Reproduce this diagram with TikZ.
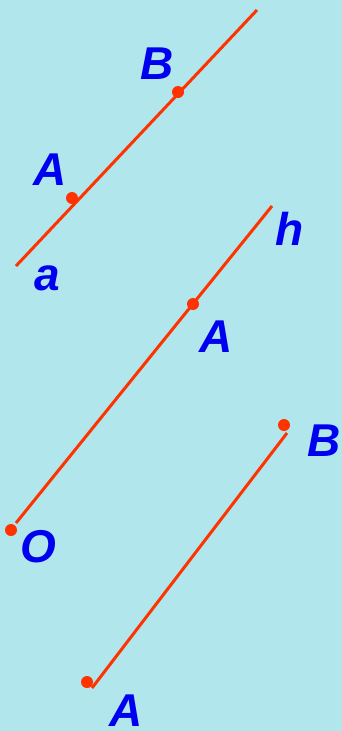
\documentclass[tikz,border=0pt]{standalone}
\usepackage{fontspec}
\setmainfont{Liberation Sans}
\definecolor{bgc}{RGB}{176,230,236}
\definecolor{redl}{RGB}{255,51,0}
\definecolor{bluel}{RGB}{0,0,240}
\begin{document}
\begin{tikzpicture}[x=1pt,y=-1pt,
  seg/.style={draw=redl,line width=3pt},
  dot/.style={circle,fill=redl,inner sep=0pt,minimum size=12pt},
  lab/.style={text=bluel,font=\fontsize{46}{46}\selectfont\bfseries\itshape,anchor=base,inner sep=0pt}]
\fill[bgc] (0,0) rectangle (342,731);
\useasboundingbox (0,0) rectangle (342,731);
% line a
\coordinate (a1) at (16,266);
\coordinate (a2) at (257,10);
\draw[seg] (a1) -- (a2);
\node[dot] (aA) at (72,198) {};
\node[dot] (aB) at (178,92) {};
\node[lab] (laB) at (157,79) {B};
\node[lab] (laA) at (50,185) {A};
\node[lab] (la) at (47,290) {a};
% ray h
\node[dot] (hO) at (11,530) {};
\coordinate (h0) at (16,523);
\coordinate (h2) at (272,206);
\draw[seg] (h0) -- (h2);
\node[dot] (hA) at (193,304) {};
\node[lab] (lh) at (290,245) {h};
\node[lab] (lhA) at (216,352) {A};
\node[lab] (lO) at (38,562) {O};
% segment AB
\node[dot] (sA) at (87,682) {};
\node[dot] (sB) at (284,425) {};
\coordinate (s0) at (92,688);
\coordinate (s1) at (287,433);
\draw[seg] (s0) -- (s1);
\node[lab] (lsB) at (324,456) {B};
\node[lab] (lsA) at (126,726) {A};
\end{tikzpicture}
\end{document}
